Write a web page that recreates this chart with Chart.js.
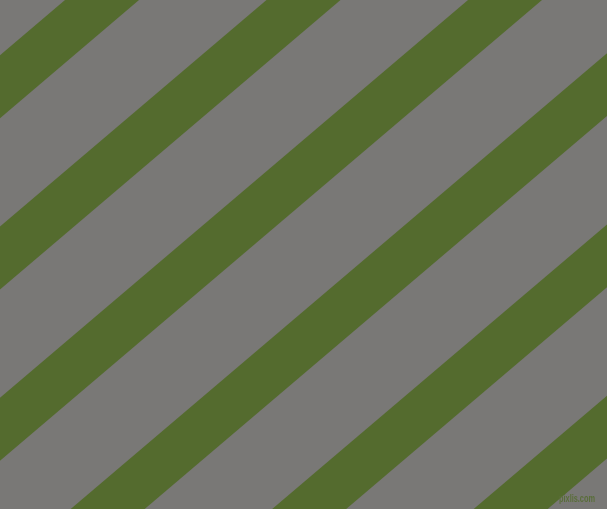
<!DOCTYPE html>
<html>
<head>
<meta charset="utf-8">
<script src="https://cdn.jsdelivr.net/npm/chart.js@4.4.0/dist/chart.umd.min.js"></script>
<style>
html,body{margin:0;padding:0;background:#797876;overflow:hidden;}
#wrap{position:absolute;left:0;top:0;width:607px;height:509px;}
</style>
</head>
<body>
<div id="wrap"><canvas id="c"></canvas></div>
<script>
// Stripe data: x-intercept (at top edge, y = 0) where each green band begins
const stripeStarts = [65, 266.5, 468, 669.5, 871, 1072.5];
// Band width measured along the top edge
const stripeWidths = [74, 74, 74, 74, 74, 74];
// Rise per pixel of run of the band edges (about 40 degrees)
const stripeSlope = 0.85;
const bgColor = '#797876';
const stripeColor = '#546b2e';
const watermark = 'pixlis.com';

function edgeX(c, y) { return c - y / stripeSlope; }

const yTop = -20, yBot = 530;
const datasets = stripeStarts.map((a, i) => {
  const b = a + stripeWidths[i];
  return {
    data: [
      {x: edgeX(a, yBot), y: yBot},
      {x: edgeX(a, yTop), y: yTop},
      {x: edgeX(b, yTop), y: yTop},
      {x: edgeX(b, yBot), y: yBot}
    ],
    showLine: true,
    fill: 'shape',
    backgroundColor: stripeColor,
    borderColor: stripeColor,
    borderWidth: 0,
    pointRadius: 0,
    tension: 0,
    clip: 0
  };
});

const bgPlugin = {
  id: 'bg',
  beforeDraw(chart) {
    const ctx = chart.ctx;
    ctx.save();
    ctx.fillStyle = bgColor;
    ctx.fillRect(0, 0, chart.width, chart.height);
    ctx.restore();
  },
  afterDraw(chart) {
    const ctx = chart.ctx;
    ctx.save();
    ctx.font = 'bold 10px "Liberation Sans", Arial, sans-serif';
    const w = ctx.measureText(watermark).width;
    const target = 36;
    ctx.translate(559, 502);
    ctx.scale(target / w, 1);
    ctx.fillStyle = '#5a6e3a';
    ctx.textAlign = 'left';
    ctx.textBaseline = 'alphabetic';
    ctx.fillText(watermark, 0, 0);
    ctx.restore();
  }
};

new Chart(document.getElementById('c'), {
  type: 'scatter',
  data: { datasets },
  options: {
    responsive: true,
    maintainAspectRatio: false,
    animation: false,
    layout: { padding: 0 },
    plugins: { legend: { display: false }, tooltip: { enabled: false } },
    scales: {
      x: { type: 'linear', min: 0, max: 607, display: false },
      y: { type: 'linear', min: 0, max: 509, reverse: true, display: false }
    }
  },
  plugins: [bgPlugin]
});
</script>
</body>
</html>
